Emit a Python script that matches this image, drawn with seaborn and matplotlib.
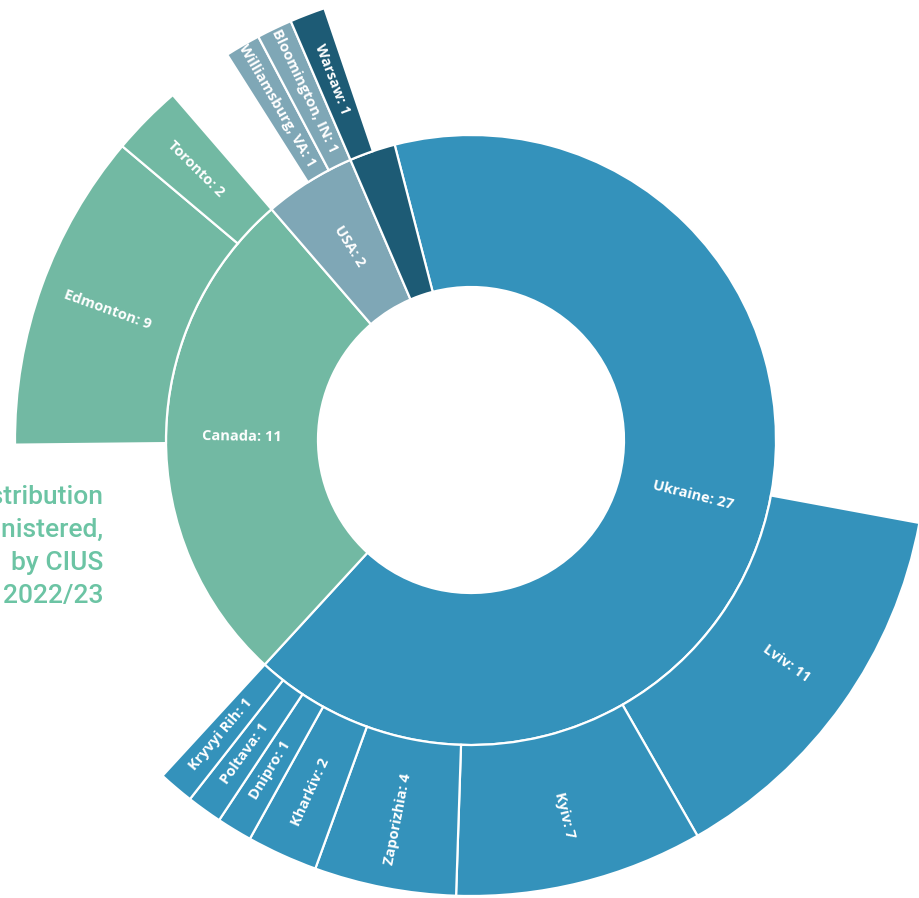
import matplotlib
matplotlib.use("Agg")
import numpy as np
import matplotlib.pyplot as plt
import seaborn as sns

# inner ring: countries
countries = ["Ukraine", "Canada", "USA", "Poland"]
country_counts = [27, 11, 2, 1]
country_labels = ["Ukraine: 27", "Canada: 11", "USA: 2", ""]

# outer ring: cities per country
cities = {
    "Ukraine": ["Lviv", "Kyiv", "Zaporizhia", "Kharkiv", "Dnipro", "Poltava", "Kryvyi Rih"],
    "Canada": ["Edmonton", "Toronto"],
    "USA": ["Williamsburg, VA", "Bloomington, IN"],
    "Poland": ["Warsaw"],
}
city_counts = {
    "Ukraine": [11, 7, 4, 2, 1, 1, 1],
    "Canada": [9, 2],
    "USA": [1, 1],
    "Poland": [1],
}

title_lines = ["Geographic distribution", "of events administered,", "by CIUS", "2022/23"]

colors = dict(zip(countries, sns.color_palette(["#3492bb", "#72b9a3", "#7fa7b6", "#1d5b75"])))

sns.set_theme(style="white")
plt.rcParams["font.family"] = ["Open Sans", "DejaVu Sans"]

W, H = 919, 898
cx, cy = 471, H - 440
r_hole, r_mid, r_out = 153, 305, 456
start = 104.5
shrink = 0.515  # outer ring drawn at about half the angular scale (mid-transition look)

fig = plt.figure(figsize=(W / 100, H / 100), dpi=100)
ax = fig.add_axes([0, 0, 1, 1])

# left caption (partly off canvas, as in the source)
for i, line in enumerate(title_lines):
    ax.text(103, H - 497 - i * 33, line, ha="right", va="center", fontsize=19,
            color="#6cc4a4", family=["Roboto", "DejaVu Sans"], fontweight="medium")

wp = dict(edgecolor="white", linewidth=1.6)

inner, _ = ax.pie(country_counts, radius=r_mid, center=(cx, cy), startangle=start,
                  counterclock=False, colors=[colors[c] for c in countries],
                  wedgeprops=dict(width=r_mid - r_hole, **wp))

# outer ring values with invisible spacers
vals, cols, labs = [], [], []
for c in countries:
    gap = sum(city_counts[c]) * (1 - shrink)
    seg_v, seg_c, seg_l = [], [], []
    for name, n in zip(cities[c], city_counts[c]):
        seg_v.append(n * shrink)
        seg_c.append(colors[c])
        seg_l.append(f"{name}: {n}")
    if c == "Poland":
        vals += seg_v + [gap]
        cols += seg_c + ["white"]
        labs += seg_l + [None]
    else:
        vals += [gap] + seg_v
        cols += ["white"] + seg_c
        labs += [None] + seg_l

outer, _ = ax.pie(vals, radius=r_out, center=(cx, cy), startangle=start,
                  counterclock=False, colors=cols,
                  wedgeprops=dict(width=r_out - r_mid, **wp))


def put_label(w, text, r, size):
    ang = (w.theta1 + w.theta2) / 2
    a = np.deg2rad(ang)
    rot = ang if np.cos(a) >= 0 else ang - 180
    ax.text(cx + r * np.cos(a), cy + r * np.sin(a), text, rotation=rot,
            rotation_mode="anchor", ha="center", va="center", fontsize=size,
            color="white", fontweight="bold")


for w, t in zip(inner, country_labels):
    if t:
        put_label(w, t, (r_hole + r_mid) / 2, 10.5)

for w, t in zip(outer, labs):
    if t is None:
        w.set_visible(False)
    else:
        put_label(w, t, (r_mid + r_out) / 2 + 6, 10.5)

ax.set_xlim(0, W)
ax.set_ylim(0, H)
ax.set_aspect("equal")
ax.axis("off")

fig.savefig("out.png", dpi=100, facecolor="white")
